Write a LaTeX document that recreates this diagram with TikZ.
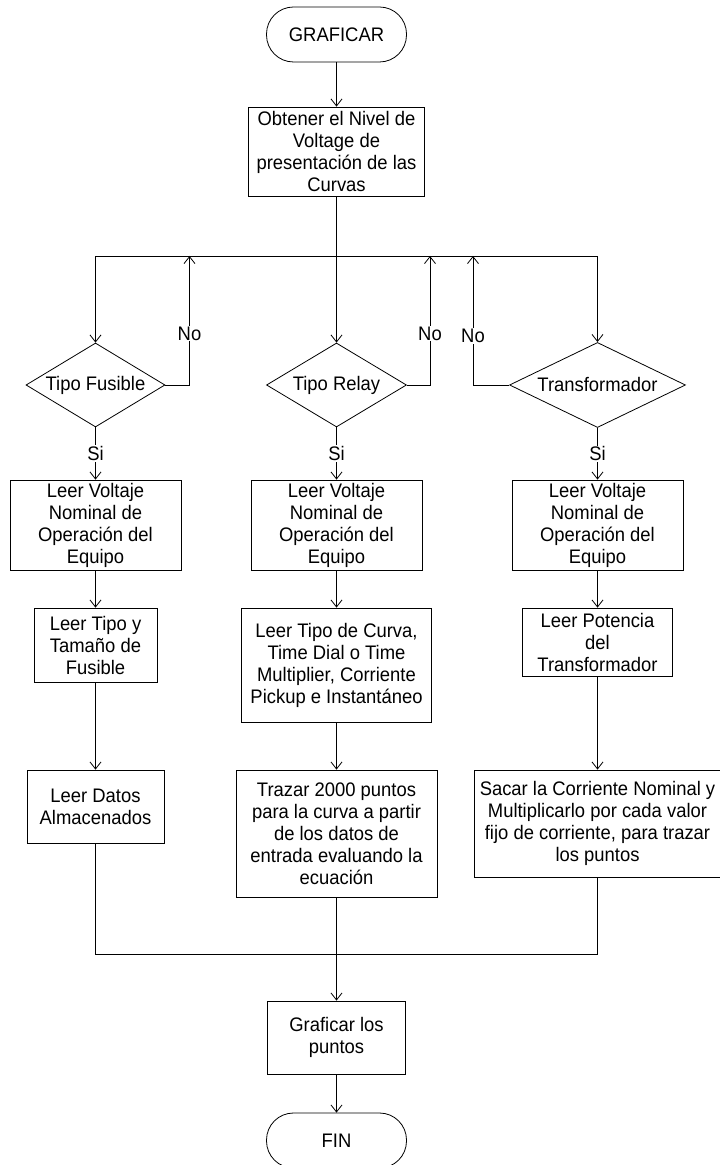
\documentclass[tikz,border=0pt]{standalone}
\usepackage{fontspec}
\setmainfont{Liberation Sans}[FakeStretch=0.94]
\usepackage{tikz}
\usetikzlibrary{shapes,arrows.meta,positioning}

\begin{document}
\begin{tikzpicture}[line width=0.8pt,
  font=\fontsize{19.6}{22}\selectfont,
  block/.style={rectangle, draw, align=center, inner sep=0pt},
  decision/.style={diamond, draw, align=center, inner sep=0pt, aspect=1.7, minimum height=84pt},
  term/.style={rectangle, draw, rounded corners=27pt, minimum width=140pt, minimum height=55pt},
  line/.style={draw, -{Straight Barb[length=7pt,width=11pt]}},
  tag/.style={fill=white, inner sep=1pt}]

  \useasboundingbox (0,0) rectangle (720pt,1165pt);

  \node [term] (start) at (336.5pt,1130.5pt) {GRAFICAR};
  \node [block, below of=start, node distance=117pt, minimum width=176pt, minimum height=89pt] (nivel) {Obtener el Nivel de\\Voltage de\\presentación de las\\Curvas};
  \coordinate [below of=nivel, node distance=104.5pt] (split);

  % decisiones
  \node [decision, below of=nivel, node distance=233.5pt, minimum width=140pt] (relay) {Tipo Relay};
  \node [decision, left of=relay, node distance=241pt, minimum width=139pt] (fusible) {Tipo Fusible};
  \node [decision, right of=relay, node distance=261pt, minimum width=176pt] (trafo) {Transformador};
  \coordinate [left of=split, node distance=147pt] (noF);
  \coordinate [right of=split, node distance=93.5pt] (noR);
  \coordinate [right of=split, node distance=136.5pt] (noT);

  % columna fusible
  \node [block, below of=fusible, node distance=140pt, minimum width=171pt, minimum height=90pt] (voltF) {Leer Voltaje\\Nominal de\\Operación del\\Equipo};
  \node [block, below of=voltF, node distance=120pt, minimum width=123pt, minimum height=74pt] (tipoF) {Leer Tipo y\\Tamaño de\\Fusible};
  \node [block, below of=tipoF, node distance=161.5pt, minimum width=137pt, minimum height=73pt] (datosF) {Leer Datos\\Almacenados};

  % columna relay
  \node [block, below of=relay, node distance=140pt, minimum width=171pt, minimum height=90pt] (voltR) {Leer Voltaje\\Nominal de\\Operación del\\Equipo};
  \node [block, below of=voltR, node distance=140pt, minimum width=190pt, minimum height=114pt] (curvaR) {Leer Tipo de Curva,\\Time Dial o Time\\Multiplier, Corriente\\Pickup e Instantáneo};
  \node [block, below of=curvaR, node distance=168.5pt, minimum width=201pt, minimum height=127pt] (trazarR) {Trazar 2000 puntos\\para la curva a partir\\de los datos de\\entrada evaluando la\\ecuación};

  % columna transformador
  \node [block, below of=trafo, node distance=140pt, minimum width=171pt, minimum height=90pt] (voltT) {Leer Voltaje\\Nominal de\\Operación del\\Equipo};
  \node [block, below of=voltT, node distance=117pt, minimum width=150pt, minimum height=68pt] (potT) {Leer Potencia\\del\\Transformador};
  \node [block, below of=potT, node distance=181.5pt, minimum width=247pt, minimum height=107pt] (sacarT) {Sacar la Corriente Nominal y\\Multiplicarlo por cada valor\\fijo de corriente, para trazar\\los puntos};

  \coordinate [below of=trazarR, node distance=120.5pt] (merge);
  \node [block, below of=trazarR, node distance=204pt, minimum width=138pt, minimum height=73pt] (graf) {Graficar los\\puntos};
  \node [term, below of=graf, node distance=103pt] (fin) {FIN};

  \draw [line] (start) -- (nivel);
  \draw [line] (nivel) -- (relay);
  \draw [line] (split) -| (fusible);
  \draw [line] (split) -| (trafo);

  \draw [line] (fusible) -| node [tag, pos=0.7] {No} (noF);
  \draw [line] (relay) -| node [tag, pos=0.7] {No} (noR);
  \draw [line] (trafo) -| node [tag, pos=0.69] {No} (noT);

  \draw [line] (fusible) -- node [tag] {Si} (voltF);
  \draw [line] (relay) -- node [tag] {Si} (voltR);
  \draw [line] (trafo) -- node [tag] {Si} (voltT);

  \draw [line] (voltF) -- (tipoF);
  \draw [line] (tipoF) -- (datosF);
  \draw [line] (voltR) -- (curvaR);
  \draw [line] (curvaR) -- (trazarR);
  \draw [line] (voltT) -- (potT);
  \draw [line] (potT) -- (sacarT);

  \draw (datosF) |- (merge);
  \draw (sacarT) |- (merge);
  \draw [line] (trazarR) -- (graf);
  \draw [line] (graf) -- (fin);
\end{tikzpicture}
\end{document}
